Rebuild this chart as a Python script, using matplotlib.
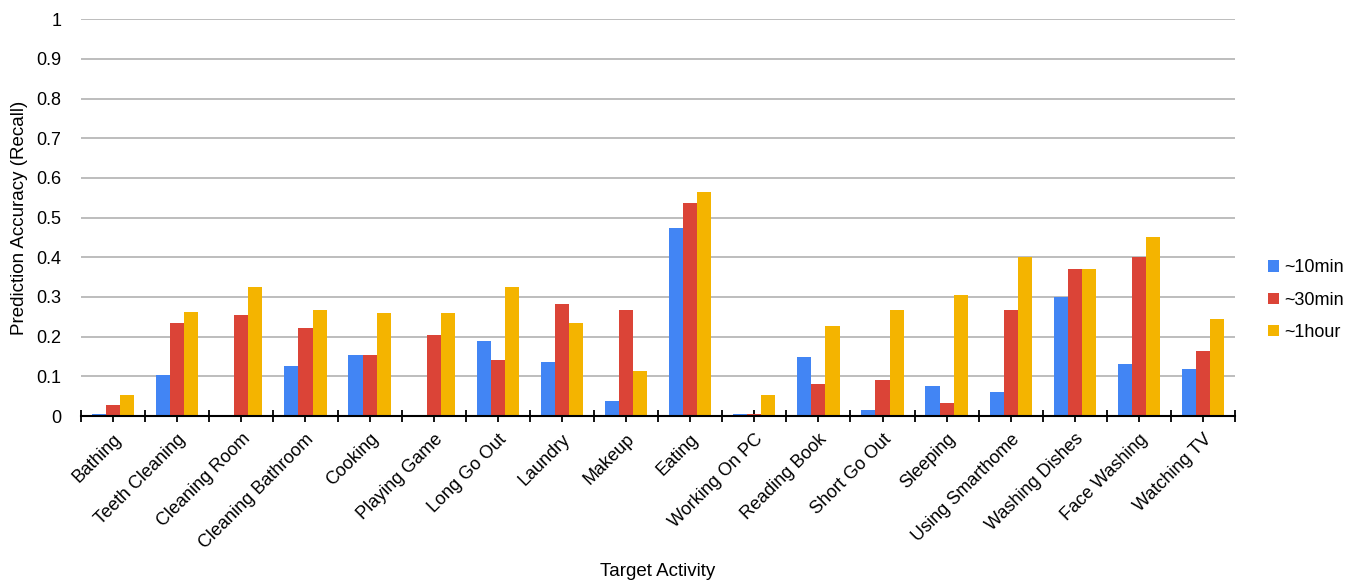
import matplotlib.pyplot as plt
import numpy as np

plt.rcParams['font.family'] = ['Liberation Sans', 'DejaVu Sans']

activities = ["Bathing", "Teeth Cleaning", "Cleaning Room", "Cleaning Bathroom",
              "Cooking", "Playing Game", "Long Go Out", "Laundry", "Makeup",
              "Eating", "Working On PC", "Reading Book", "Short Go Out",
              "Sleeping", "Using Smarthome", "Washing Dishes", "Face Washing",
              "Watching TV"]
min10 = [0.005, 0.103, 0.0, 0.127, 0.155, 0.0, 0.188, 0.136, 0.038,
         0.475, 0.005, 0.150, 0.014, 0.076, 0.061, 0.301, 0.132, 0.118]
min30 = [0.029, 0.235, 0.255, 0.221, 0.155, 0.203, 0.141, 0.282, 0.268,
         0.536, 0.005, 0.080, 0.090, 0.033, 0.268, 0.371, 0.400, 0.165]
hour1 = [0.052, 0.263, 0.325, 0.267, 0.259, 0.259, 0.325, 0.235, 0.113,
         0.564, 0.052, 0.226, 0.267, 0.305, 0.400, 0.371, 0.451, 0.244]
series = ["~10min", "~30min", "~1hour"]
colors = ["#4285F4", "#DB4437", "#F4B400"]

fig = plt.figure(figsize=(13.53, 5.83), dpi=100)
ax = fig.add_axes([0.0599, 0.2864, 0.853, 0.6806])

x = np.arange(len(activities))
w = 0.22
for k, (vals, name, c) in enumerate(zip([min10, min30, hour1], series, colors)):
    ax.bar(x + (k - 1) * w, vals, w, color=c, label=name,
           linewidth=0, zorder=3)

ax.set_xlim(-0.5, len(activities) - 0.5)
ax.set_ylim(0, 1)
ax.set_yticks(np.arange(0, 1.01, 0.1))
ax.set_yticklabels(['0'] + ['%.1f' % v for v in np.arange(0.1, 0.95, 0.1)] + ['1'])
ax.yaxis.grid(True, color='#b7b7b7', linewidth=1.3, zorder=0)
ax.tick_params(axis='y', length=0, labelsize=13, pad=14)

ax.set_xticks(x)
ax.set_xticklabels(activities, rotation=45, ha='right', rotation_mode='anchor', fontsize=13)
ax.set_xticks(np.arange(-0.5, len(activities)), minor=True)
ax.tick_params(axis='x', which='both', direction='inout', length=9, width=1.3, color='black')
ax.tick_params(axis='x', which='major', pad=6)

for s in ['top', 'right', 'left']:
    ax.spines[s].set_visible(False)
ax.spines['bottom'].set_linewidth(1.5)
ax.spines['bottom'].set_zorder(4)

# axis titles placed directly
fig.text(658 / 1353, 1 - 572 / 583, "Target Activity", fontsize=13.5,
         ha='center', va='center')
fig.text(20 / 1353, 1 - 218 / 583, "Prediction Accuracy (Recall)", fontsize=13.5,
         ha='center', va='center', rotation=90)

handles, labels = ax.get_legend_handles_labels()
fig.legend(handles, labels, loc='center left', bbox_to_anchor=(0.925, 0.485),
           frameon=False, fontsize=13, handlelength=0.6, handleheight=0.6,
           handletextpad=0.3, labelspacing=0.85)

fig.savefig("out.png", dpi=100)
